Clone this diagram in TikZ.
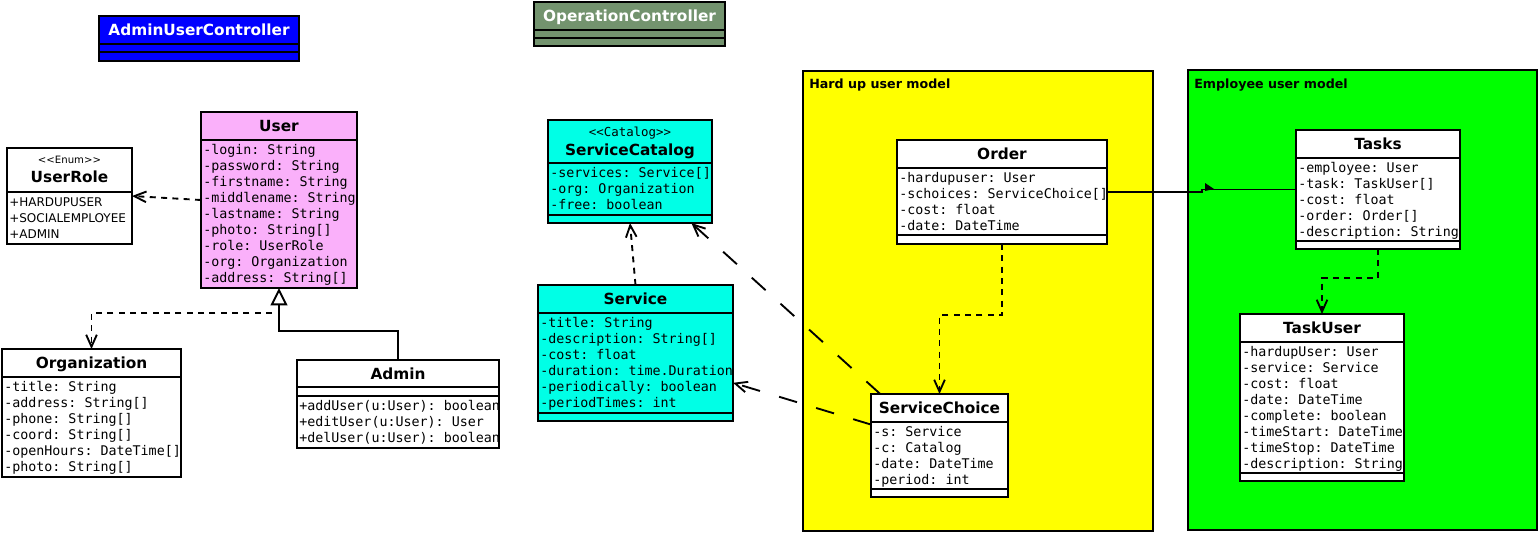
\documentclass[tikz,border=0pt]{standalone}
\usepackage{fontspec}
\setmainfont{DejaVu Sans}
\setmonofont{DejaVu Sans Mono}
\usetikzlibrary{arrows.meta,fit,calc}
\definecolor{ctrlblue}{RGB}{0,0,255}
\definecolor{opgreen}{RGB}{115,147,110}
\definecolor{userpink}{RGB}{250,176,250}
\definecolor{svccyan}{RGB}{0,255,230}
\definecolor{pkgyellow}{RGB}{255,255,0}
\definecolor{pkggreen}{RGB}{0,255,0}
\tikzset{
 clsbox/.style={draw=black, line width=1.5pt, inner sep=0pt, outer sep=0pt},
 sepl/.style={line width=1.5pt},
 title/.style={anchor=base, inner sep=0pt, font=\bfseries\fontsize{11.5}{13}\selectfont},
 stereo/.style={anchor=base, inner sep=0pt, font=\fontsize{7.6}{9}\selectfont},
 stereomono/.style={anchor=base, inner sep=0pt, font=\ttfamily\fontsize{9.3}{11}\selectfont},
 attr/.style={anchor=base west, inner sep=0pt, font=\ttfamily\fontsize{10}{12}\selectfont},
 enumv/.style={anchor=base west, inner sep=0pt, font=\fontsize{9}{12}\selectfont},
 pkglabel/.style={anchor=base west, inner sep=0pt, font=\bfseries\fontsize{9.5}{11}\selectfont},
 conn/.style={line width=1.4pt},
 dep/.style={conn, dash pattern=on 4.5pt off 4pt, -{Straight Barb[length=9pt,width=8pt]}},
 longdep/.style={conn, dash pattern=on 14pt off 15pt, -{Straight Barb[length=9pt,width=8pt]}},
 gen/.style={conn, -{Triangle[open,length=13pt,width=12.5pt]}},
}
\newcommand\attrlines[5][attr]{\foreach \t [count=\i from 0] in {#5} {\node[#1] (#2\i) at (#3,#4+16*\i) {\t};}}
\begin{document}
\begin{tikzpicture}[x=0.75pt,y=-0.75pt]
\useasboundingbox (0,0) rectangle (1540,533);

% packages
\node[clsbox, fill=pkgyellow, fit={(803,71)(1153,531)}] (hardpkg) {};
\node[pkglabel] (hardlbl) at (809,88) {Hard up user model};
\node[clsbox, fill=pkggreen, fit={(1188,70)(1537,530)}] (emppkg) {};
\node[pkglabel] (emplbl) at (1194,88) {Employee user model};

% AdminUserController
\node[clsbox, fill=ctrlblue, fit={(99,16)(299,61)}] (auc) {};
\draw[sepl] (99,44) -- (299,44) (99,52) -- (299,52);
\node[title, text=white] (auct) at (199,35.5) {AdminUserController};

% OperationController
\node[clsbox, fill=opgreen, fit={(534,2)(725,46)}] (opc) {};
\draw[sepl] (534,30) -- (725,30) (534,38) -- (725,38);
\node[title, text=white] (opct) at (629.5,21.5) {OperationController};

% UserRole
\node[clsbox, fill=white, fit={(7,148)(132,244)}] (userrole) {};
\draw[sepl] (7,192) -- (132,192);
\node[stereo] (urs) at (69.5,163) {<{}<Enum>{}>};
\node[title] (urt) at (69.5,182) {UserRole};
\begin{scope}
\clip (userrole.north west) rectangle (userrole.south east);
\attrlines[enumv]{ura}{9}{206}{+HARDUPUSER,+SOCIALEMPLOYEE,+ADMIN}
\end{scope}

% User
\node[clsbox, fill=userpink, fit={(201,112)(357,288)}] (user) {};
\draw[sepl] (201,140) -- (357,140);
\node[title] (usert) at (279,131.5) {User};
\begin{scope}
\clip (user.north west) rectangle (user.south east);
\attrlines{usera}{203}{154.5}{-login: String,-password: String,-firstname: String,-middlename: String,-lastname: String,-photo: String[],-role: UserRole,-org: Organization,-address: String[]}
\end{scope}

% Organization
\node[clsbox, fill=white, fit={(2,349)(181,477)}] (org) {};
\draw[sepl] (2,377) -- (181,377);
\node[title] (orgt) at (91.5,368) {Organization};
\begin{scope}
\clip (org.north west) rectangle (org.south east);
\attrlines{orga}{4}{391.5}{-title: String,-address: String[],-phone: String[],-coord: String[],-openHours: DateTime[],-photo: String[]}
\end{scope}

% Admin
\node[clsbox, fill=white, fit={(297,360)(499,448)}] (admin) {};
\draw[sepl] (297,387) -- (499,387) (297,396) -- (499,396);
\node[title] (admint) at (398,379) {Admin};
\begin{scope}
\clip (admin.north west) rectangle (admin.south east);
\attrlines{admino}{299}{410.5}{+addUser(u:User): boolean,+editUser(u:User): User,+delUser(u:User): boolean}
\end{scope}

% ServiceCatalog
\node[clsbox, fill=svccyan, fit={(548,120)(712,223)}] (scat) {};
\draw[sepl] (548,163) -- (712,163) (548,215) -- (712,215);
\node[stereomono] (scats) at (630,136) {<{}<Catalog>{}>};
\node[title] (scatt) at (630,155) {ServiceCatalog};
\begin{scope}
\clip (scat.north west) rectangle (scat.south east);
\attrlines{scata}{550}{177.5}{-services: Service[],-org: Organization,-free: boolean}
\end{scope}

% Service
\node[clsbox, fill=svccyan, fit={(538,285)(733,421)}] (service) {};
\draw[sepl] (538,313) -- (733,313) (538,413) -- (733,413);
\node[title] (servicet) at (635.5,304.5) {Service};
\begin{scope}
\clip (service.north west) rectangle (service.south east);
\attrlines{servicea}{540}{327.5}{-title: String,-description: String[],-cost: float,-duration: time.Duration,-periodically: boolean,-periodTimes: int}
\end{scope}

% Order
\node[clsbox, fill=white, fit={(897,140)(1107,244)}] (order) {};
\draw[sepl] (897,168) -- (1107,168) (897,235) -- (1107,235);
\node[title] (ordert) at (1002,159.5) {Order};
\begin{scope}
\clip (order.north west) rectangle (order.south east);
\attrlines{ordera}{899}{182.5}{-hardupuser: User,-schoices: ServiceChoice[],-cost: float,-date: DateTime}
\end{scope}

% ServiceChoice
\node[clsbox, fill=white, fit={(871,394)(1008,497)}] (sc) {};
\draw[sepl] (871,422) -- (1008,422) (871,489) -- (1008,489);
\node[title] (sct) at (939.5,413.5) {ServiceChoice};
\begin{scope}
\clip (sc.north west) rectangle (sc.south east);
\attrlines{sca}{873}{436.5}{-s: Service,-c: Catalog,-date: DateTime,-period: int}
\end{scope}

% Tasks
\node[clsbox, fill=white, fit={(1296,130)(1460,249)}] (tasks) {};
\draw[sepl] (1296,158) -- (1460,158) (1296,241) -- (1460,241);
\node[title] (taskst) at (1378,149.5) {Tasks};
\begin{scope}
\clip (tasks.north west) rectangle (tasks.south east);
\attrlines{tasksa}{1298}{172.5}{-employee: User,-task: TaskUser[],-cost: float,-order: Order[],-description: String}
\end{scope}

% TaskUser
\node[clsbox, fill=white, fit={(1240,314)(1404,481)}] (taskuser) {};
\draw[sepl] (1240,342) -- (1404,342) (1240,473) -- (1404,473);
\node[title] (taskusert) at (1322,333.5) {TaskUser};
\begin{scope}
\clip (taskuser.north west) rectangle (taskuser.south east);
\attrlines{taskusera}{1242}{356.5}{-hardupUser: User,-service: Service,-cost: float,-date: DateTime,-complete: boolean,-timeStart: DateTime,-timeStop: DateTime,-description: String}
\end{scope}

% connectors
\draw[dep] (user.west) -- (userrole.east);
\draw[dep] ($(user.south)+(-7,25)$) -| (org.north);
\draw[gen] (admin.north) -- ++(0,-29) -| (user.south);
\draw[dep] (service.north) -- (scat.south);
\draw[longdep] (sc.139) -- (scat.-40);
\draw[longdep] (sc.163) -- (service.-17);
\draw[dep] (order.south) -- ++(0,71) -| (sc.north);
\draw[dep] (tasks.south) -- ++(0,29) -| (taskuser.north);
\draw[conn] (order.east) -- ++(95,0) |- (tasks.west);
\fill (1205,183) -- (1214,189) -- (1205,191) -- cycle;
\end{tikzpicture}
\end{document}
